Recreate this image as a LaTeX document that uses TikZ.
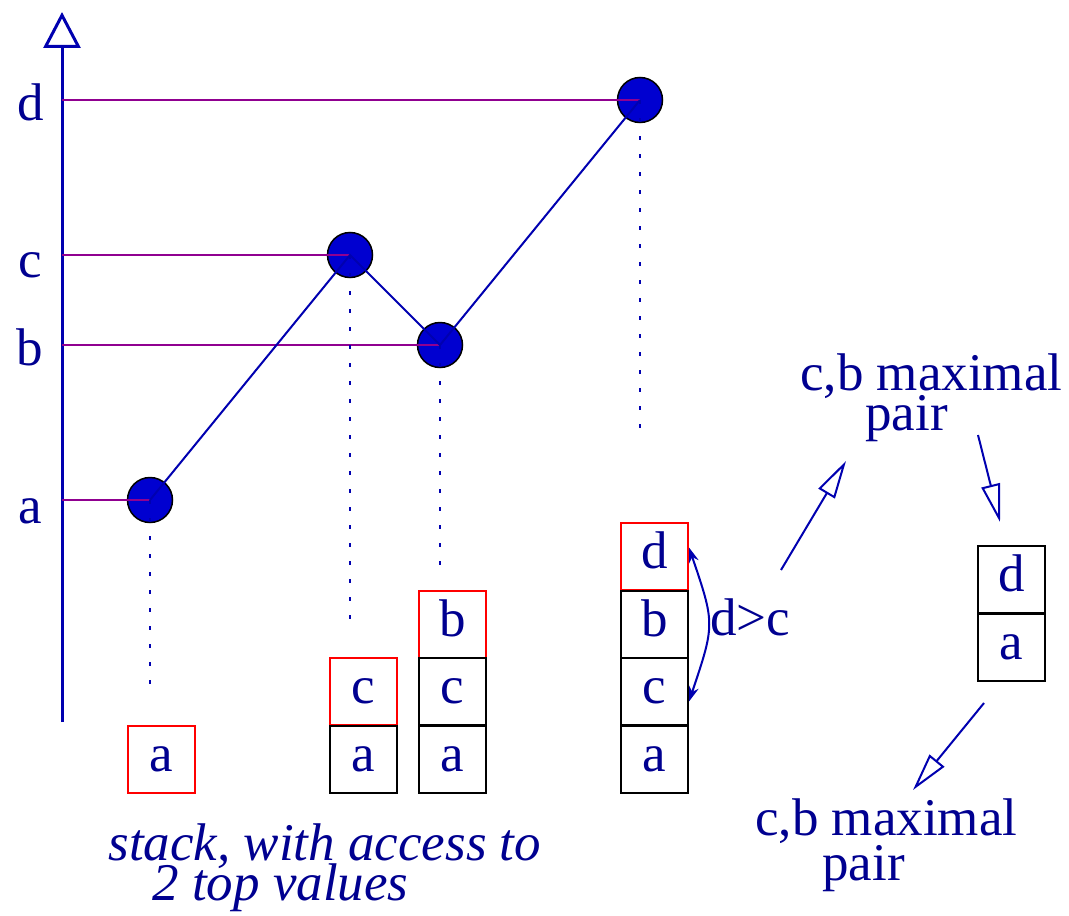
\documentclass[tikz,border=0pt]{standalone}
\usepackage{fontspec}
\setmainfont{Liberation Serif}
\usetikzlibrary{arrows.meta,calc}
\definecolor{txtblue}{RGB}{0,0,144}
\definecolor{lnblue}{RGB}{0,0,176}
\definecolor{fillblue}{RGB}{0,0,208}
\definecolor{mag}{RGB}{144,0,144}
\begin{document}
\begin{tikzpicture}[x=0.5pt,y=-0.5pt,
  lab/.style={text=txtblue,font=\fontsize{26.5}{30}\selectfont,inner sep=0pt},
  ptnode/.style={circle,draw=black,line width=0.75pt,fill=fillblue,minimum size=22.5pt,inner sep=0pt},
  cell/.style={draw=black,line width=1pt,minimum size=33.5pt,inner sep=0pt,text height=12pt,text depth=0pt,text=txtblue,font=\fontsize{26.5}{30}\selectfont},
  topcell/.style={cell,draw=red},
  hline/.style={draw=mag,line width=1pt},
  curve/.style={draw=lnblue,line width=1pt},
  drop/.style={draw=lnblue,line width=1pt,dash pattern=on 2pt off 7pt},
  openarr/.style={draw=lnblue,line width=1pt,-{Triangle[open,length=19pt,width=9.5pt]}},
  dcarr/.style={draw=lnblue,line width=1pt,{Stealth[length=7.5pt,width=5pt]}-{Stealth[length=7.5pt,width=5pt]}}
]
\useasboundingbox (0,0) rectangle (1069,915);

% axis
\coordinate (ax0) at (62,722);
\coordinate (axtip) at (62,12);
\draw[lnblue,line width=1.5pt,-{Triangle[open,length=18pt,width=18.5pt]}] (ax0) -- (axtip);

% axis labels
\node[lab,anchor=base] (ld) at (31,120) {d};
\node[lab,anchor=base] (lc) at (30,277) {c};
\node[lab,anchor=base] (lb) at (30,365) {b};
\node[lab,anchor=base] (la) at (30,523) {a};

% points
\node[ptnode] (pa) at (150,500) {};
\node[ptnode] (pc) at (350,255) {};
\node[ptnode] (pb) at (440,345) {};
\node[ptnode] (pd) at (640,100) {};

% horizontal guides
\coordinate (ya) at (62,500);
\coordinate (yb) at (62,345);
\coordinate (yc) at (62,255);
\coordinate (yd) at (62,100);
\draw[hline] (ya) -- (pa.center);
\draw[hline] (yb) -- (pb.center);
\draw[hline] (yc) -- (pc.center);
\draw[hline] (yd) -- (pd.center);

% polyline
\draw[curve] (pa.center) -- (pc.center) -- (pb.center) -- (pd.center);

% drops
\coordinate (ea) at (150,692);
\coordinate (ec) at (350,625);
\coordinate (eb) at (440,570);
\coordinate (ed) at (640,432);
\draw[drop] (pa.center) -- (ea);
\draw[drop] (pc.center) -- (ec);
\draw[drop] (pb.center) -- (eb);
\draw[drop] (pd.center) -- (ed);

% stacks: red tops first, black drawn over
\node[topcell] (s1a) at (161,759) {a};
\node[topcell] (s2c) at (363.5,691.5) {c};
\node[topcell] (s3b) at (452.5,624) {b};
\node[topcell] (s4d) at (654.5,556.5) {d};

\node[cell] (s2a) at (363.5,759) {a};
\node[cell] (s3c) at (452.5,691.5) {c};
\node[cell] (s3a) at (452.5,759) {a};
\node[cell] (s4b) at (654.5,624) {b};
\node[cell] (s4c) at (654.5,691.5) {c};
\node[cell] (s4a) at (654.5,759) {a};

\node[cell] (rd) at (1011.5,579.5) {d};
\node[cell] (ra) at (1011.5,647) {a};

% d>c comparison
\draw[dcarr] ($(s4d.east)+(0,-9)$) .. controls (715,624) .. ($(s4c.east)+(0,10)$);
\node[lab,anchor=base west] (dgc) at (710,635) {d>c};

% texts
\node[lab,anchor=base west] (t1a) at (800,390) {c,b maximal};
\node[lab,anchor=base west] (t1b) at (865,430) {pair};
\node[lab,anchor=base west] (t2a) at (755,835) {c,b maximal};
\node[lab,anchor=base west] (t2b) at (822,880) {pair};
\node[lab,anchor=base west,font=\fontsize{26.5}{30}\selectfont\itshape] (cap1) at (108,860) {stack, with access to};
\node[lab,anchor=base west,font=\fontsize{26.5}{30}\selectfont\itshape] (cap2) at (152,900) {2 top values};

% open arrows
\coordinate (a1s) at (781,570);
\coordinate (a1e) at (846,461);
\coordinate (a2s) at (978,435);
\coordinate (a2e) at (1000,522);
\coordinate (a3s) at (984,703);
\coordinate (a3e) at (913,790);
\draw[openarr] (a1s) -- (a1e);
\draw[openarr] (a2s) -- (a2e);
\draw[openarr] (a3s) -- (a3e);
\end{tikzpicture}
\end{document}
